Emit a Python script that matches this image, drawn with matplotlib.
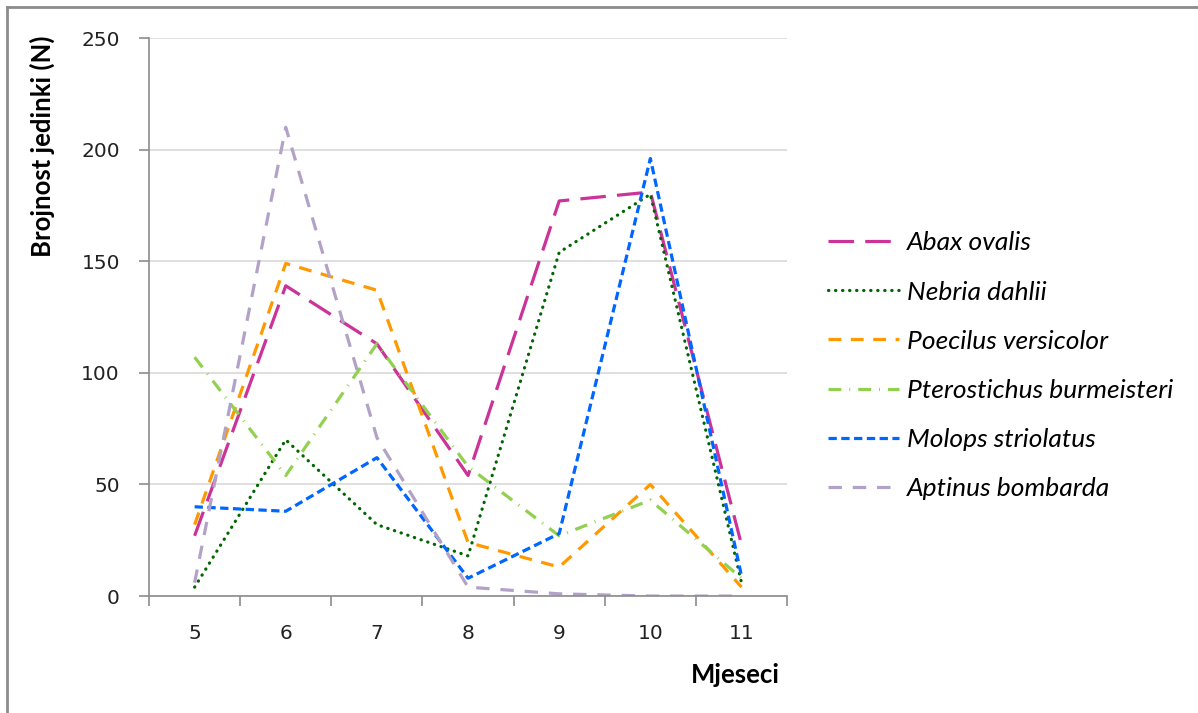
import numpy as np
import matplotlib
matplotlib.use("Agg")
import matplotlib.pyplot as plt
from matplotlib.lines import Line2D

months = [5, 6, 7, 8, 9, 10, 11]

abax = [27, 139, 113, 54, 177, 181, 23]
nebria = [4, 70, 32, 18, 154, 180, 6]
poecilus = [32, 149, 137, 24, 13, 50, 4]
pterostichus = [107, 54, 113, 58, 27, 43, 8]
molops = [40, 38, 62, 8, 28, 196, 9]
aptinus = [6, 210, 71, 4, 1, 0, 0]

names = ["Abax ovalis", "Nebria dahlii", "Poecilus versicolor",
         "Pterostichus burmeisteri", "Molops striolatus", "Aptinus bombarda"]
series = [abax, nebria, poecilus, pterostichus, molops, aptinus]
colors = ["#CC3399", "#006600", "#FF9900", "#92D050", "#0066FF", "#B3A2C7"]
styles = [(0, (8, 3.5)), (0, (0.1, 2.1)), (0, (4, 3)),
          (0, (4, 2.5, 0.3, 2.5)), (0, (2.6, 1.4)), (0, (4.2, 3.4))]

fig = plt.figure(figsize=(11.98, 7.13), dpi=100)
ax = fig.add_axes([0.1244, 0.164, 0.657 - 0.1244, 0.9467 - 0.164])

x = np.arange(len(months))
for vals, name, c, ls in zip(series, names, colors, styles):
    cap = "round" if name == "Nebria dahlii" else "butt"
    ax.plot(x, vals, color=c, lw=2.3, linestyle=ls, label=name,
            dash_capstyle=cap, solid_joinstyle="miter")

ax.set_xlim(-0.5, len(months) - 0.5)
ax.set_ylim(0, 250)
ax.set_yticks(range(0, 251, 50))
ax.set_xticks(x)
ax.set_xticklabels([str(m) for m in months])
ax.set_xticks(np.arange(-0.5, len(months), 1), minor=True)
ax.tick_params(axis="x", which="major", length=0, pad=20, labelsize=14.5,
               labelcolor="#222222")
ax.tick_params(axis="x", which="minor", length=7, color="#8c8c8c", width=1.2)
ax.tick_params(axis="y", length=7, color="#8c8c8c", width=1.2, pad=14,
               labelsize=14.5, labelcolor="#222222")
ax.grid(axis="y", color="#d9d9d9", lw=1.2)
ax.set_axisbelow(True)
for s in ["top", "right"]:
    ax.spines[s].set_visible(False)
for s in ["left", "bottom"]:
    ax.spines[s].set_color("#8c8c8c")
    ax.spines[s].set_linewidth(1.2)

fig.text(0.035, 0.795, "Brojnost jedinki (N)", rotation=90, ha="center",
         va="center", fontsize=18.5, fontweight="bold", family="Lato")
fig.text(0.6135, 0.053, "Mjeseci", ha="center", va="center", fontsize=18.5,
         fontweight="bold", family="Lato")

handles = [Line2D([], [], color=c, lw=2.3, linestyle=ls,
                  dash_capstyle="round" if n == "Nebria dahlii" else "butt")
           for c, ls, n in zip(colors, styles, names)]
leg = fig.legend(handles, names, loc="center left",
                 bbox_to_anchor=(0.671, 0.487), frameon=False,
                 handlelength=2.7, handletextpad=0.3, labelspacing=0.99,
                 prop={"family": "Lato", "style": "italic", "size": 19})

# outer frame (top and left edges)
fig.add_artist(Line2D([0.0058, 1], [0.990, 0.990], color="#8c8c8c", lw=2,
                      transform=fig.transFigure))
fig.add_artist(Line2D([0.0058, 0.0058], [0, 0.990], color="#8c8c8c", lw=2,
                      transform=fig.transFigure))

fig.savefig("out.png", dpi=100)
